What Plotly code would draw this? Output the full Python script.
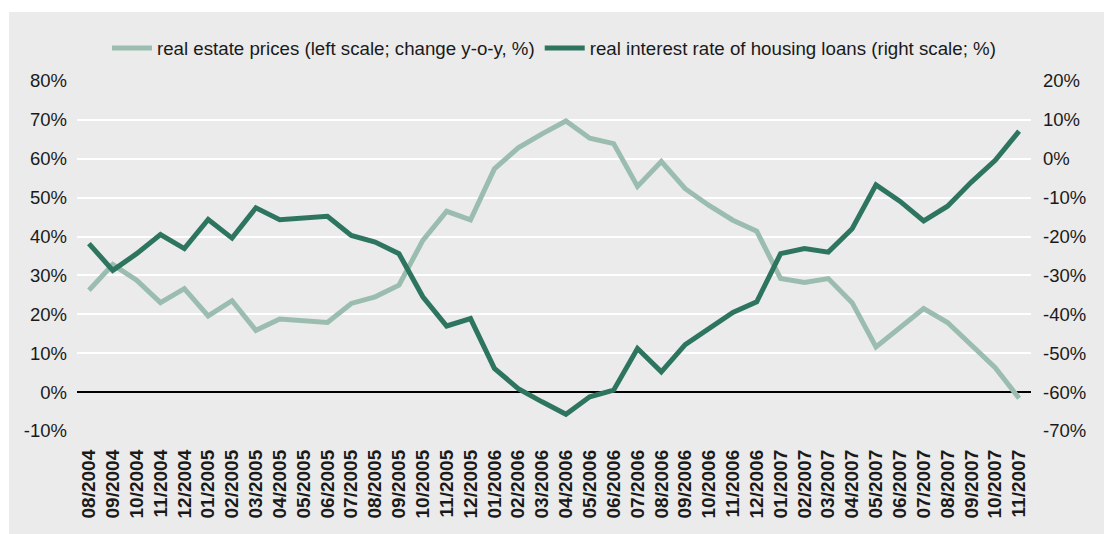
import plotly.graph_objects as go

months = ["08/2004", "09/2004", "10/2004", "11/2004", "12/2004",
          "01/2005", "02/2005", "03/2005", "04/2005", "05/2005", "06/2005",
          "07/2005", "08/2005", "09/2005", "10/2005", "11/2005", "12/2005",
          "01/2006", "02/2006", "03/2006", "04/2006", "05/2006", "06/2006",
          "07/2006", "08/2006", "09/2006", "10/2006", "11/2006", "12/2006",
          "01/2007", "02/2007", "03/2007", "04/2007", "05/2007", "06/2007",
          "07/2007", "08/2007", "09/2007", "10/2007", "11/2007"]

real_estate_prices = [26.2, 32.8, 28.8, 23.0, 26.6, 19.6, 23.5, 15.9, 18.8, 18.3, 17.9,
                      22.8, 24.5, 27.5, 39.0, 46.5, 44.3, 57.4, 62.8, 66.4, 69.7,
                      65.3, 63.9, 52.9, 59.3, 52.3, 48.0, 44.2, 41.4, 29.2, 28.2,
                      29.2, 23.0, 11.6, 16.6, 21.5, 17.9, 12.1, 6.3, -1.6]

real_interest_rate = [-21.8, -28.7, -24.4, -19.5, -23.1, -15.6, -20.4, -12.6, -15.7, -15.2, -14.8,
                      -19.7, -21.4, -24.4, -35.5, -43.0, -41.1, -53.9, -59.1, -62.5, -65.7,
                      -61.2, -59.5, -48.8, -54.8, -47.8, -43.6, -39.5, -36.8, -24.4, -23.1,
                      -24.0, -18.0, -6.7, -10.9, -16.0, -12.2, -6.0, -0.4, 7.1]

left_ticks = [-10, 0, 10, 20, 30, 40, 50, 60, 70, 80]
left_tick_labels = ["-10%", "0%", "10%", "20%", "30%", "40%", "50%", "60%", "70%", "80%"]
right_ticks = [-70, -60, -50, -40, -30, -20, -10, 0, 10, 20]
right_tick_labels = ["-70%", "-60%", "-50%", "-40%", "-30%", "-20%", "-10%", "0%", "10%", "20%"]

name_prices = "real estate prices (left scale; change y-o-y, %)"
name_rate = "real interest rate of housing loans (right scale; %)"

FONT = "Liberation Sans, Arial, Helvetica, sans-serif"
LIGHT = "#9bbdaf"
DARK = "#2e7560"
BG = "#ebebeb"

fig = go.Figure()
fig.add_trace(go.Scatter(x=months, y=real_estate_prices, name=name_prices,
                         mode="lines", line=dict(color=LIGHT, width=5), yaxis="y"))
fig.add_trace(go.Scatter(x=months, y=real_interest_rate, name=name_rate,
                         mode="lines", line=dict(color=DARK, width=5), yaxis="y2"))

PW, PH = 954, 350  # plot area size in px
fig.update_layout(
    width=1104, height=534,
    margin=dict(l=77, r=73, t=81, b=103),
    paper_bgcolor=BG,
    plot_bgcolor=BG,
    font=dict(family=FONT, size=18.5, color="#1a1a1a"),
    showlegend=True,
    legend=dict(orientation="h", x=0.5, xanchor="center", y=1.093, yanchor="middle",
                bgcolor="rgba(0,0,0,0)", font=dict(size=18.7), itemwidth=40,
                traceorder="normal"),
    xaxis=dict(type="category", range=[-0.5, len(months) - 0.5], tickangle=-90,
               showgrid=False, zeroline=False, showline=False, ticks="",
               tickfont=dict(family=FONT, size=19, weight="bold", color="#1a1a1a"),
               ticklabelstandoff=14),
    yaxis=dict(range=[-10, 80], tickvals=left_ticks, ticktext=left_tick_labels,
               showgrid=True, gridcolor="white", gridwidth=2, zeroline=True,
               zerolinecolor="black", zerolinewidth=1.5, showline=False, ticks="",
               ticklabelstandoff=9),
    yaxis2=dict(range=[-70, 20], tickvals=right_ticks, ticktext=right_tick_labels,
                overlaying="y", side="right", showgrid=False, zeroline=False,
                showline=False, ticks="", ticklabelstandoff=11),
    shapes=[
        # white outer border strips (top and left) around the grey panel
        dict(type="rect", xref="paper", yref="paper",
             x0=-77 / PW, x1=1 + 80 / PW, y0=1 + (81 - 12) / PH, y1=1 + 90 / PH,
             fillcolor="white", line=dict(width=0), layer="below"),
        dict(type="rect", xref="paper", yref="paper",
             x0=-90 / PW, x1=(9 - 77) / PW, y0=-110 / PH, y1=1 + 90 / PH,
             fillcolor="white", line=dict(width=0), layer="below"),
    ],
)

fig.write_html("out.html", config={"displayModeBar": False},
               post_script="document.body.style.margin='0';document.body.style.padding='0';"
                           "document.body.style.overflow='hidden';"
                           "document.body.style.background='#ebebeb';"
                           "document.documentElement.style.background='#ebebeb';")
